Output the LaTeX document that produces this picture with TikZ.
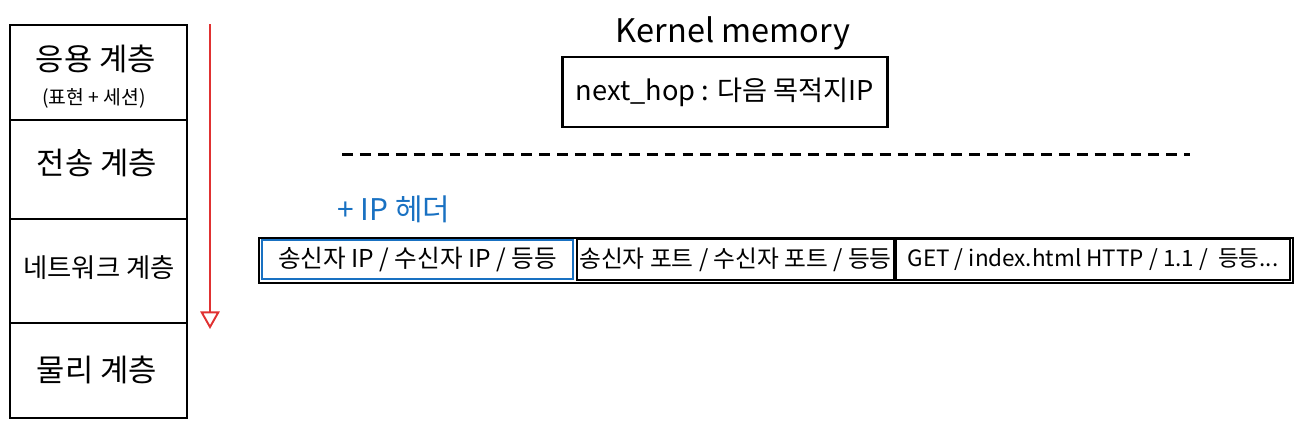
\documentclass[tikz,border=0pt]{standalone}
\usepackage{fontspec}
\setmainfont{Noto Sans CJK KR}
\usetikzlibrary{arrows.meta,positioning}
\definecolor{sketchred}{HTML}{E03131}
\definecolor{sketchblue}{HTML}{1971C2}

\begin{document}
\begin{tikzpicture}[x=0.02cm, y=-0.02cm,
    layerbox/.style={draw, line width=1.1pt, minimum width=3.54cm, anchor=north west, inner sep=0pt},
    layertext/.style={font=\fontsize{17.5}{20}\selectfont},
    pktbox/.style={draw, line width=1.1pt, inner sep=0pt, font=\fontsize{14}{16}\selectfont}]
\useasboundingbox (0,0) rectangle (1300,427);

% OSI layers, top to bottom
\node[layerbox, minimum height=1.9cm]  (app)   at (9,24)  {};
\node[layerbox, minimum height=1.98cm] (trans) at (9,119) {};
\node[layerbox, minimum height=2.08cm] (net)   at (9,218) {};
\node[layerbox, minimum height=1.9cm]  (phys)  at (9,322) {};
\node[layertext] (appname) at (96,59) {응용 계층};
\node[font=\fontsize{11}{13}\selectfont] (appsub) at (94,98) {(표현 + 세션)};
\node[layertext] (transname) at (97,163) {전송 계층};
\node[font=\fontsize{15}{18}\selectfont] (netname) at (99,268) {네트워크 계층};
\node[layertext] (physname) at (97,370) {물리 계층};

% downward flow
\coordinate (flowtop) at (210,24);
\coordinate (flowbot) at (210,329);
\draw[sketchred, line width=1.1pt, -{Triangle[open, length=10pt, width=11pt]}] (flowtop) -- (flowbot);

% kernel memory
\node[font=\fontsize{18.5}{22}\selectfont] (kmtitle) at (733,33) {Kernel memory};
\node[draw, line width=1.3pt, minimum width=6.5cm, minimum height=1.4cm,
      font=\fontsize{15.5}{18}\selectfont] (kmbox) at (725,92) {next\_hop : 다음 목적지IP};

% boundary
\coordinate (sepl) at (342,154);
\coordinate (sepr) at (1190,154);
\draw[line width=1.7pt, dash pattern=on 6.2pt off 4pt] (sepl) -- (sepr);

% packet
\node[text=sketchblue, font=\fontsize{17}{20}\selectfont] (iphdr) at (394,209) {+ IP 헤더};
\node[draw, line width=1.3pt, minimum width=20.68cm, minimum height=0.9cm, anchor=north west] (pkt) at (258,237) {};
\node[pktbox, draw=sketchblue, line width=1.4pt, minimum width=6.22cm, minimum height=0.78cm] (ippart) at (417.5,259.5) {송신자 IP / 수신자 IP / 등등};
\node[pktbox, font=\fontsize{13.5}{16}\selectfont, minimum width=6.34cm, minimum height=0.82cm] (tcppart) at (735.5,259.5) {송신자 포트 / 수신자 포트 / 등등};
\node[pktbox, font=\fontsize{12.8}{15}\selectfont, minimum width=7.88cm, minimum height=0.82cm] (httppart) at (1093,259.5) {GET / index.html HTTP / 1.1 /~ 등등...};
\end{tikzpicture}
\end{document}
